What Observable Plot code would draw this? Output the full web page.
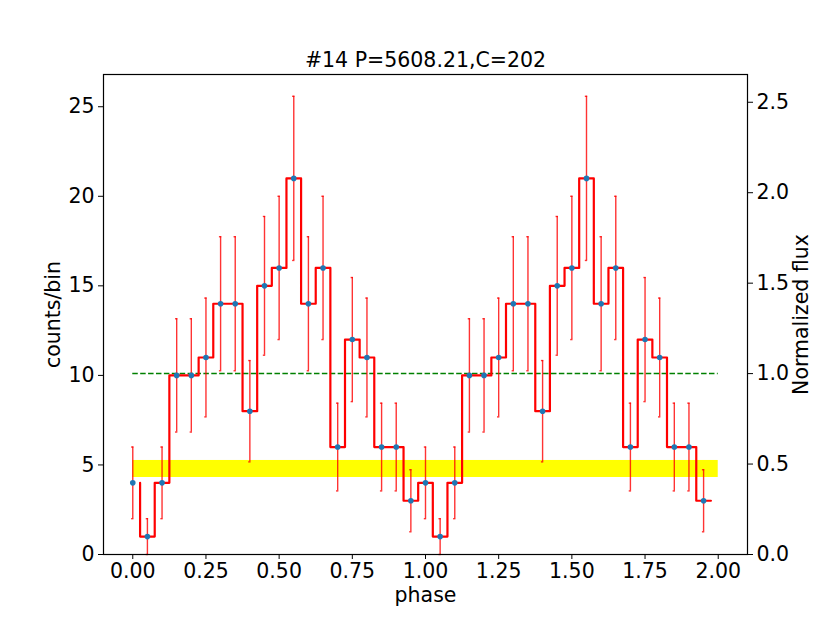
<!DOCTYPE html>
<html>
<head>
<meta charset="utf-8">
<script src="https://cdn.jsdelivr.net/npm/d3@7"></script>
<script src="https://cdn.jsdelivr.net/npm/@observablehq/plot@0.6"></script>
<style>
  html, body { margin: 0; padding: 0; background: #fff; }
</style>
</head>
<body>
<div id="chart"></div>
<script>
// ---- data ----
const titleText = "#14 P=5608.21,C=202";
const phaseBins = [0.00, 0.05, 0.10, 0.15, 0.20, 0.25, 0.30, 0.35, 0.40, 0.45,
                   0.50, 0.55, 0.60, 0.65, 0.70, 0.75, 0.80, 0.85, 0.90, 0.95];
const counts = [4, 1, 4, 10, 10, 11, 14, 14, 8, 15, 16, 21, 14, 16, 6, 12, 11, 6, 6, 3];
const cycles = [0, 1];
const binWidth = 0.05;
const bandLow = [4.3];
const bandHigh = [5.25];
const xTicks = [0, 0.25, 0.5, 0.75, 1.0, 1.25, 1.5, 1.75, 2.0];
const yTicks = [0, 5, 10, 15, 20, 25];
const rightTicks = [0, 0.5, 1.0, 1.5, 2.0, 2.5];
const xLabel = "phase";
const yLabel = "counts/bin";
const y2Label = "Normalized flux";

// ---- derived table ----
const mean = d3.sum(counts) / counts.length;
const rows = [];
for (const c of cycles) {
  phaseBins.forEach((p, i) => {
    const v = counts[i];
    rows.push({phase: c + p, v, lo: v - Math.sqrt(v), hi: v + Math.sqrt(v)});
  });
}
const xEnd = cycles.length;
const band = bandLow.map((lo, i) => ({lo, hi: bandHigh[i]}));

const red = "#ff0000";
const fontSize = 20.5;

const chart = Plot.plot({
  width: 830,
  height: 623,
  marginLeft: 103,
  marginRight: 83,
  marginTop: 74,
  marginBottom: 69,
  style: {fontFamily: "DejaVu Sans", fontSize: fontSize + "px", background: "#fff", color: "#000"},
  x: {domain: [-0.1, 2.1]},
  y: {domain: [0, 26.8]},
  marks: [
    Plot.rect(band, {x1: 0, x2: xEnd, y1: "lo", y2: "hi", fill: "#ffff00"}),
    Plot.ruleY([mean], {x1: 0, x2: xEnd, stroke: "#008000", strokeWidth: 1.5, strokeDasharray: "5.5,2.4"}),
    Plot.ruleX(rows, {x: "phase", y1: "lo", y2: "hi", stroke: red, strokeWidth: 1.4, strokeOpacity: 0.8}),
    Plot.ruleY(rows, {y: "hi", x1: d => d.phase - 0.004, x2: d => d.phase + 0.004, stroke: red, strokeWidth: 1.4, strokeOpacity: 0.8}),
    Plot.ruleY(rows, {y: "lo", x1: d => d.phase - 0.004, x2: d => d.phase + 0.004, stroke: red, strokeWidth: 1.4, strokeOpacity: 0.8}),
    Plot.line(rows, {x: d => d.phase + binWidth / 2, y: "v", curve: "step-before", stroke: red, strokeWidth: 2.2}),
    Plot.dot(rows, {x: "phase", y: "v", r: 2.8, fill: "#1f77b4", stroke: "none"}),
    Plot.frame({stroke: "#000", strokeWidth: 1.2}),
    Plot.axisX({ticks: xTicks, tickFormat: d3.format(".2f"), tickSize: 5, tickPadding: 4, label: null, fontSize}),
    Plot.axisY({ticks: yTicks, tickFormat: d3.format("d"), tickSize: 5, tickPadding: 4, label: null, fontSize}),
    Plot.axisY({anchor: "right", ticks: rightTicks.map(v => v * mean), tickFormat: d => (d / mean).toFixed(1), tickSize: 5, tickPadding: 4, label: null, fontSize}),
    Plot.text([titleText], {frameAnchor: "top", lineAnchor: "middle", dy: -14, fontSize, text: d => d}),
    Plot.text([xLabel], {frameAnchor: "bottom", lineAnchor: "middle", dy: 41, fontSize, text: d => d}),
    Plot.text([yLabel], {frameAnchor: "left", lineAnchor: "middle", textAnchor: "middle", dx: -50, rotate: -90, fontSize, text: d => d}),
    Plot.text([y2Label], {frameAnchor: "right", lineAnchor: "middle", textAnchor: "middle", dx: 54, rotate: -90, fontSize, text: d => d})
  ]
});
document.getElementById("chart").appendChild(chart);
</script>
</body>
</html>
